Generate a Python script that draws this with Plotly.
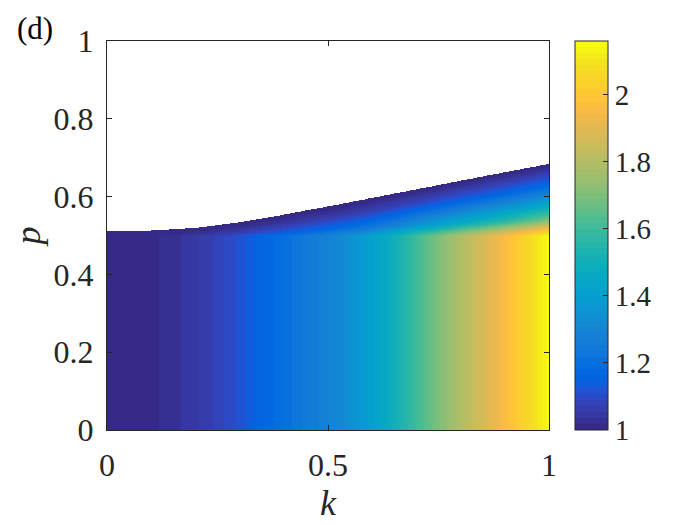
import numpy as np
import plotly.graph_objects as go

# ---- values ----
k_pts = [0.0, 0.05, 0.10, 0.12, 0.17, 0.21, 0.24, 0.27, 0.295, 0.317, 0.333,
         0.40, 0.45, 0.50, 0.55, 0.60, 0.65, 0.70, 0.75, 0.80, 0.85, 0.90, 0.95, 1.0]
base_vals = [1.0, 1.0, 1.005, 1.019, 1.037, 1.055, 1.074, 1.092, 1.11, 1.128, 1.146,
             1.20, 1.245, 1.29, 1.34, 1.41, 1.50, 1.60, 1.70, 1.79, 1.87, 1.96, 2.05, 2.16]

pmax_k = [0.0, 0.1, 0.2, 0.3, 0.4, 0.5, 0.6, 0.7, 0.8, 0.9, 1.0]
pmax_vals = [0.512, 0.514, 0.521, 0.535, 0.555, 0.576, 0.598, 0.620, 0.642, 0.664, 0.685]

p_flat = 0.5
blend_s = [0.0, 0.08, 0.22, 0.48, 0.67, 0.90, 1.0]
blend_f = [1.0, 0.86, 0.60, 0.34, 0.17, 0.04, 0.0]

x_ticks = [0, 0.5, 1]
x_ticktext = ["0", "0.5", "1"]
y_ticks = [0, 0.2, 0.4, 0.6, 0.8, 1]
y_ticktext = ["0", "0.2", "0.4", "0.6", "0.8", "1"]
cb_ticks = [1, 1.2, 1.4, 1.6, 1.8, 2]
cb_ticktext = ["1", "1.2", "1.4", "1.6", "1.8", "2"]
zmin, zmax = 1.0, 2.16

parula = [
    (0.2081, 0.1663, 0.5292), (0.2116, 0.1898, 0.5777), (0.2123, 0.2138, 0.6270), (0.2081, 0.2386, 0.6771),
    (0.1959, 0.2645, 0.7279), (0.1707, 0.2919, 0.7792), (0.1253, 0.3242, 0.8303), (0.0591, 0.3598, 0.8683),
    (0.0117, 0.3875, 0.8820), (0.0060, 0.4086, 0.8828), (0.0165, 0.4266, 0.8786), (0.0329, 0.4430, 0.8720),
    (0.0498, 0.4586, 0.8641), (0.0629, 0.4737, 0.8554), (0.0723, 0.4887, 0.8467), (0.0779, 0.5040, 0.8384),
    (0.0793, 0.5200, 0.8312), (0.0749, 0.5375, 0.8263), (0.0641, 0.5570, 0.8240), (0.0488, 0.5772, 0.8228),
    (0.0343, 0.5966, 0.8199), (0.0265, 0.6137, 0.8135), (0.0239, 0.6287, 0.8038), (0.0231, 0.6418, 0.7913),
    (0.0228, 0.6535, 0.7768), (0.0267, 0.6642, 0.7607), (0.0384, 0.6743, 0.7436), (0.0590, 0.6838, 0.7254),
    (0.0843, 0.6928, 0.7062), (0.1133, 0.7015, 0.6859), (0.1453, 0.7098, 0.6646), (0.1801, 0.7177, 0.6424),
    (0.2178, 0.7250, 0.6193), (0.2586, 0.7317, 0.5954), (0.3022, 0.7376, 0.5712), (0.3482, 0.7424, 0.5473),
    (0.3953, 0.7459, 0.5244), (0.4420, 0.7481, 0.5033), (0.4871, 0.7491, 0.4840), (0.5300, 0.7491, 0.4661),
    (0.5709, 0.7485, 0.4494), (0.6099, 0.7473, 0.4337), (0.6473, 0.7456, 0.4188), (0.6834, 0.7435, 0.4044),
    (0.7184, 0.7411, 0.3905), (0.7525, 0.7384, 0.3768), (0.7858, 0.7356, 0.3633), (0.8185, 0.7327, 0.3498),
    (0.8507, 0.7299, 0.3360), (0.8824, 0.7274, 0.3217), (0.9139, 0.7258, 0.3063), (0.9450, 0.7261, 0.2886),
    (0.9739, 0.7314, 0.2666), (0.9938, 0.7455, 0.2403), (0.9990, 0.7653, 0.2164), (0.9955, 0.7861, 0.1967),
    (0.9880, 0.8066, 0.1794), (0.9789, 0.8271, 0.1633), (0.9697, 0.8481, 0.1475), (0.9626, 0.8705, 0.1309),
    (0.9589, 0.8949, 0.1132), (0.9598, 0.9218, 0.0948), (0.9661, 0.9514, 0.0755), (0.9763, 0.9831, 0.0538),
]

# discrete (stepped) colorscale
n = len(parula)
colorscale = []
for i, (r, g, b) in enumerate(parula):
    c = f"rgb({int(round(r*255))},{int(round(g*255))},{int(round(b*255))})"
    colorscale.append([i / n, c])
    colorscale.append([(i + 1) / n, c])

# ---- build field on a grid ----
kg = np.linspace(0, 1, 225)
pg = np.linspace(0, 1, 390)
base = np.interp(kg, k_pts, base_vals)
pmax = np.interp(kg, pmax_k, pmax_vals)
K, P = np.meshgrid(kg, pg)
B = np.broadcast_to(base, K.shape)
PM = np.broadcast_to(pmax, K.shape)
s = np.clip((P - p_flat) / (PM - p_flat), 0, None)
f = np.interp(s, blend_s, blend_f)
Z = np.where(P <= p_flat, B, 1 + (B - 1) * f)
Z = np.where(P > PM, np.nan, Z)

font_family = "Liberation Serif, Times New Roman, serif"
axcol = "#262626"

fig = go.Figure()
fig.add_trace(go.Heatmap(
    x=kg, y=pg, z=Z.astype(np.float32),
    colorscale=colorscale, zmin=zmin, zmax=zmax,
    hoverongaps=False,
    colorbar=dict(
        x=1.058, xanchor="left", y=0, yanchor="bottom", len=1.0, lenmode="fraction",
        thickness=33, thicknessmode="pixels", xpad=0, ypad=0,
        outlinewidth=1, outlinecolor=axcol,
        tickvals=cb_ticks, ticktext=cb_ticktext, ticks="inside", ticklen=5,
        tickcolor=axcol, tickfont=dict(family=font_family, size=29, color=axcol),
    ),
))

fig.update_layout(
    width=692, height=517,
    margin=dict(l=93, r=151, t=33, b=95),
    paper_bgcolor="white", plot_bgcolor="white",
    font=dict(family=font_family, color=axcol),
    xaxis=dict(
        range=[0, 1], tickvals=x_ticks, ticktext=x_ticktext,
        ticks="inside", ticklen=5, tickcolor=axcol, mirror="ticks",
        showline=True, linecolor=axcol, linewidth=1, showgrid=False, zeroline=False,
        tickfont=dict(family=font_family, size=32, color=axcol),
        title=dict(text="<i>k</i>", font=dict(family=font_family, size=36, color=axcol), standoff=2),
        ticklabelstandoff=7,
    ),
    yaxis=dict(
        range=[0, 1], tickvals=y_ticks, ticktext=y_ticktext,
        ticks="inside", ticklen=5, tickcolor=axcol, mirror="ticks",
        showline=True, linecolor=axcol, linewidth=1, showgrid=False, zeroline=False,
        tickfont=dict(family=font_family, size=32, color=axcol),
        title=dict(text="<i>p</i>", font=dict(family=font_family, size=36, color=axcol), standoff=8),
        ticklabelstandoff=6,
    ),
    annotations=[dict(
        text="(d)", xref="paper", yref="paper", x=-0.208, y=1.031,
        xanchor="left", yanchor="middle", showarrow=False,
        font=dict(family=font_family, size=31, color="black"),
    )],
)

fig.write_html("out.html")
